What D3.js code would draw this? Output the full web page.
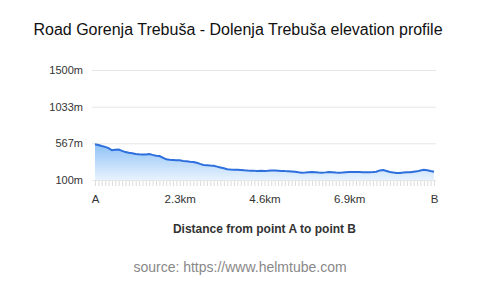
<!DOCTYPE html>
<html>
<head>
<meta charset="utf-8">
<script src="https://cdn.jsdelivr.net/npm/d3@7"></script>
<style>
  body { margin: 0; background: #fff; }
  text { font-family: "Liberation Sans", Arial, sans-serif; }
</style>
</head>
<body>
<div id="chart"></div>
<script>
// elevation in metres, one value per sample from A to B
var elevation = [
  555, 545, 532, 522, 505, 478, 484, 488, 470, 455,
  447, 440, 432, 428, 425, 426, 432, 420, 410, 405,
  385, 363, 358, 356, 352, 350, 343, 338, 333, 330,
  320, 305, 292, 288, 284, 281, 270, 260, 250, 238,
  234, 232, 231, 228, 223, 220, 219, 217, 216, 218,
  215, 217, 222, 220, 218, 216, 213, 211, 208, 205,
  198, 193, 194, 198, 201, 198, 195, 193, 197, 202,
  199, 195, 193, 196, 200, 202, 201, 202, 203, 200,
  198, 199, 201, 205, 222, 226, 215, 203, 195, 190,
  189, 194, 198, 200, 205, 210, 220, 231, 225, 214,
  206
];
var yTicks = [100, 567, 1033, 1500];
var xLabels = ['A', '2.3km', '4.6km', '6.9km', 'B'];

const width = 480;
const height = 287;
const margin = { left: 95, right: 46, top: 70, bottom: 107 };

var svg = d3.select('#chart')
  .append('svg')
  .attr('width', width)
  .attr('height', height);

// Scales
var scaleX = d3.scaleLinear()
  .domain([0, elevation.length - 1])
  .range([margin.left, width - margin.right]);

var scaleY = d3.scaleLinear()
  .domain([100, 1500])
  .range([height - margin.bottom, margin.top]);

// Gradient for the area
var grad = svg.append('defs').append('linearGradient')
  .attr('id', 'fillGrad')
  .attr('x1', 0).attr('y1', 0).attr('x2', 0).attr('y2', 1);
grad.append('stop').attr('offset', '0%').attr('stop-color', '#8fc2f7');
grad.append('stop').attr('offset', '100%').attr('stop-color', '#e8f3fe');

// Grid lines + y labels
var axisY = d3.axisLeft(scaleY)
  .tickValues(yTicks)
  .tickSize(-(width - margin.right - margin.left + 5))
  .tickFormat(function (d) { return d + 'm'; });

svg.append('g')
  .attr('transform', 'translate(' + (margin.left - 3) + ',0)')
  .call(axisY)
  .call(function (g) { g.select('.domain').remove(); })
  .call(function (g) {
    g.selectAll('line').attr('stroke', '#e6e6e6').attr('stroke-width', 1);
    g.selectAll('text').attr('x', -9).attr('fill', '#333').style('font-size', '11px');
  });

// Area + line
var area = d3.area()
  .x(function (d, i) { return scaleX(i); })
  .y0(scaleY(100))
  .y1(function (d) { return scaleY(d); });

var line = d3.line()
  .x(function (d, i) { return scaleX(i); })
  .y(function (d) { return scaleY(d); });

svg.append('path')
  .attr('d', area(elevation))
  .attr('fill', 'url(#fillGrad)');

svg.append('path')
  .attr('d', line(elevation))
  .attr('fill', 'none')
  .attr('stroke', '#2d6fdc')
  .attr('stroke-width', 2);

// X axis: small tick at every sample, labels every 25
var axisX = d3.axisBottom(scaleX)
  .tickValues(d3.range(elevation.length))
  .tickSize(5)
  .tickFormat(function (d) { return d % 25 === 0 ? xLabels[d / 25] : ''; });

svg.append('g')
  .attr('transform', 'translate(0,' + (height - margin.bottom + 1) + ')')
  .call(axisX)
  .call(function (g) { g.select('.domain').remove(); })
  .call(function (g) {
    g.selectAll('line').attr('stroke', '#dcdcdc');
    g.selectAll('text').attr('y', 14).attr('fill', '#333').style('font-size', '11.5px');
  });

// Titles
svg.append('text')
  .attr('x', width / 2 - 2)
  .attr('y', 35)
  .attr('text-anchor', 'middle')
  .attr('fill', '#111')
  .style('font-size', '16px')
  .text('Road Gorenja Trebuša - Dolenja Trebuša elevation profile');

svg.append('text')
  .attr('x', (margin.left + width - margin.right) / 2)
  .attr('y', 233)
  .attr('text-anchor', 'middle')
  .attr('fill', '#333')
  .style('font-size', '12px')
  .style('font-weight', 'bold')
  .text('Distance from point A to point B');

svg.append('text')
  .attr('x', width / 2)
  .attr('y', 272)
  .attr('text-anchor', 'middle')
  .attr('fill', '#888')
  .style('font-size', '14px')
  .text('source: https://www.helmtube.com');
</script>
</body>
</html>
